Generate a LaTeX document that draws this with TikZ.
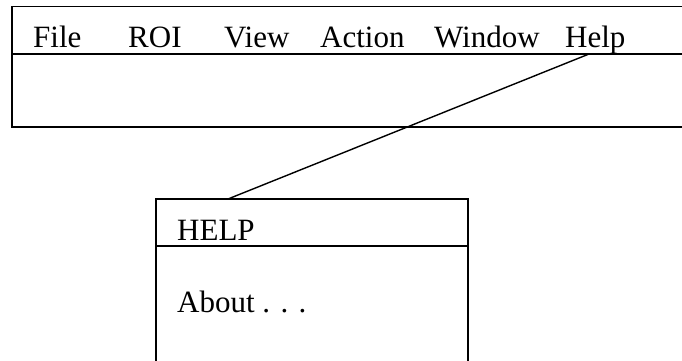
\documentclass[tikz,border=0pt]{standalone}
\usepackage{fontspec}
\setmainfont{Liberation Serif}
\begin{document}
\begin{tikzpicture}[x=1pt,y=-1pt,
  boxline/.style={draw=black,line width=1.4pt},
  menutext/.style={anchor=base west,inner sep=0pt,font=\fontsize{31}{36}\selectfont}]
\useasboundingbox (0,0) rectangle (682,360);
% top menu window
\draw[boxline] (682,6.5) -- (12,6.5) -- (12,127) -- (682,127);
\draw[boxline] (12,54) -- (682,54);
\node[menutext] (file) at (33,47) {File};
\node[menutext] (roi) at (128,47) {ROI};
\node[menutext] (view) at (224,47) {View};
\node[menutext] (action) at (320,47) {Action};
\node[menutext] (window) at (434,47) {Window};
\node[menutext] (help) at (565,47) {Help};
% help menu box
\draw[boxline] (156,362) -- (156,199) -- (468,199) -- (468,362);
\draw[boxline] (156,246) -- (468,246);
\node[menutext] (helptitle) at (177,240) {HELP};
\node[menutext] (about) at (177,312) {About . . .};
% connector
\coordinate (hs) at (589,54);
\coordinate (ht) at (228,199);
\draw[line width=1.4pt] (hs) -- (ht);
\end{tikzpicture}
\end{document}
